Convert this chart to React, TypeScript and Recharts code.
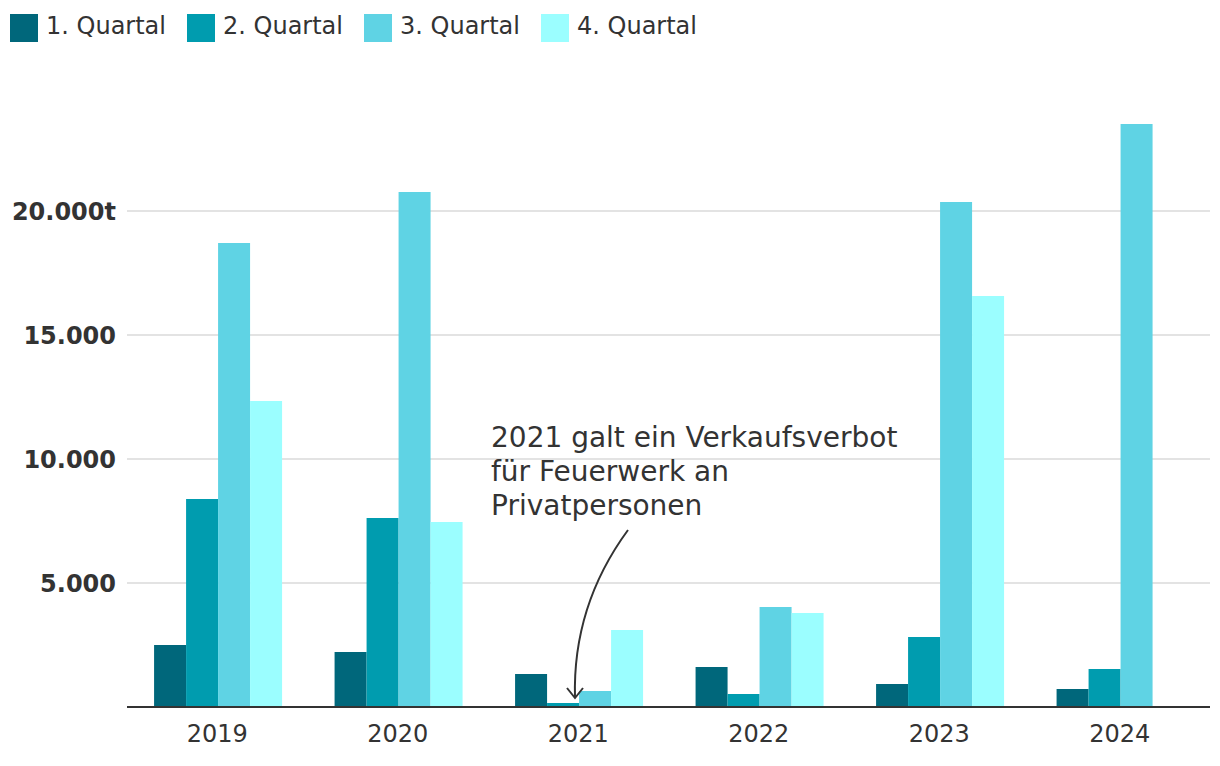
import React from 'react';
import { BarChart, Bar, XAxis, YAxis, CartesianGrid } from 'recharts';

const categories = ['2019', '2020', '2021', '2022', '2023', '2024'];
const q1 = [2500, 2220, 1330, 1610, 930, 730];
const q2 = [8390, 7620, 160, 525, 2820, 1530];
const q3 = [18710, 20770, 645, 4030, 20360, 23510];
const q4: (number | null)[] = [12340, 7460, 3100, 3790, 16570, null];

const seriesNames = ['1. Quartal', '2. Quartal', '3. Quartal', '4. Quartal'];
const seriesKeys = ['q1', 'q2', 'q3', 'q4'];
const colors = ['#00677b', '#009caf', '#5fd3e4', '#9bfeff'];
const yTicks = [0, 5000, 10000, 15000, 20000];
const gridValues = [5000, 10000, 15000, 20000];
const yTickLabels: Record<number, string> = { 0: '', 5000: '5.000', 10000: '10.000', 15000: '15.000', 20000: '20.000t' };
const annotationLines = ['2021 galt ein Verkaufsverbot', 'für Feuerwerk an', 'Privatpersonen'];

const data = categories.map((c, i) => ({ year: c, q1: q1[i], q2: q2[i], q3: q3[i], q4: q4[i] }));

const FONT = '"DejaVu Sans", Verdana, sans-serif';

export default function App() {
  return (
    <div style={{ position: 'absolute', left: 0, top: 0, width: 1220, height: 766, background: '#fff', fontFamily: FONT }}>
      <div style={{ position: 'absolute', left: 10, top: 14, display: 'flex', alignItems: 'center' }}>
        {seriesNames.map((n, i) => (
          <div key={n} style={{ display: 'flex', alignItems: 'center', marginRight: 21 }}>
            <div style={{ width: 28, height: 28, background: colors[i], marginRight: 8 }} />
            <span style={{ fontSize: 24, color: '#333', lineHeight: '28px', position: 'relative', top: -2 }}>{n}</span>
          </div>
        ))}
      </div>
      <BarChart
        width={1220}
        height={766}
        data={data}
        margin={{ top: 87, right: 10, bottom: 19, left: 0 }}
        barCategoryGap="15%"
        barGap={0}
      >
        <CartesianGrid horizontal vertical={false} horizontalValues={gridValues} stroke="#e3e3e3" strokeWidth={2} />
        <XAxis
          dataKey="year"
          height={40}
          tickLine={false}
          axisLine={{ stroke: '#333', strokeWidth: 2 }}
          tickMargin={12}
          tick={{ fontSize: 24, fill: '#333', fontFamily: FONT }}
        />
        <YAxis
          width={127}
          domain={[0, 25000]}
          ticks={yTicks}
          axisLine={false}
          tickLine={false}
          tickMargin={5}
          tickFormatter={(v: number) => yTickLabels[v] ?? ''}
          tick={{ fontSize: 24, fill: '#333', fontWeight: 'bold', fontFamily: FONT }}
        />
        {seriesKeys.map((k, i) => (
          <Bar key={k} dataKey={k} name={seriesNames[i]} fill={colors[i]} isAnimationActive={false} />
        ))}
      </BarChart>
      <svg width={1220} height={766} style={{ position: 'absolute', left: 0, top: 0, pointerEvents: 'none' }}>
        {annotationLines.map((t, i) => (
          <text key={i} x={491} y={447 + i * 34} fontSize={28} fill="#333" fontFamily={FONT}>{t}</text>
        ))}
        <path d="M 628 530 C 595 575, 573 630, 575 698" fill="none" stroke="#333" strokeWidth={2} />
        <path d="M 567 688 L 575 698 L 583 688" fill="none" stroke="#333" strokeWidth={2} />
      </svg>
    </div>
  );
}
